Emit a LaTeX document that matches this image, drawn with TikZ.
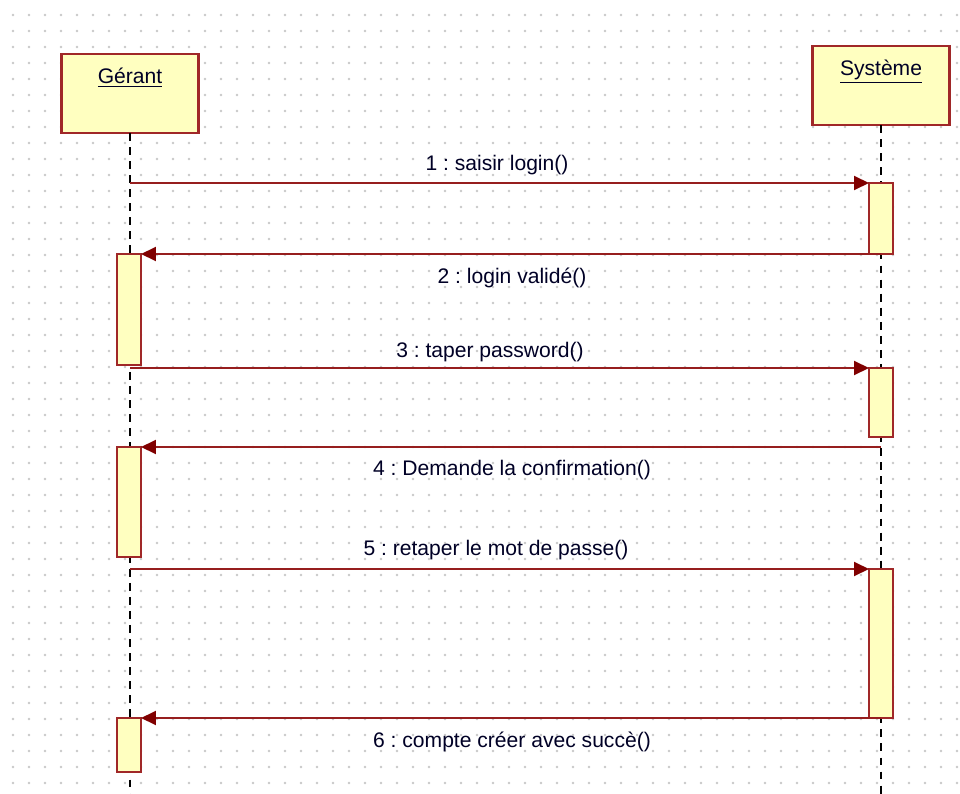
\documentclass[tikz,border=0pt]{standalone}
\usepackage{fontspec}
\setmainfont{Liberation Sans}
\usetikzlibrary{arrows.meta}
\frenchspacing

\definecolor{objborder}{RGB}{160,40,40}
\definecolor{msgline}{RGB}{150,30,30}
\definecolor{msghead}{RGB}{128,0,0}
\definecolor{objfill}{RGB}{255,255,192}
\definecolor{dotgray}{RGB}{200,200,200}

\tikzset{
	object/.style = {draw = objborder, fill = objfill, line width = 1.2pt, minimum width = 2.74cm, minimum height = 1.58cm, inner sep = 0pt, outer sep = 0pt},
	activation/.style = {draw = objborder, fill = objfill, line width = 1.1pt, minimum width = 0.48cm, inner sep = 0pt, outer sep = 0pt, anchor = north},
	lifeline/.style = {black, line width = 0.9pt, dash pattern = on 4.5pt off 3.5pt},
	message/.style = {msgline, line width = 1.1pt, -{Triangle[length = 0.3cm, width = 0.28cm, fill = msghead, color = msghead]}},
	msglabel/.style = {font = \fontsize{12}{14}\selectfont, text = black!85!blue, inner sep = 0pt}
}

\begin{document}
\begin{tikzpicture}[x = 0.02cm, y = -0.02cm]
	 \useasboundingbox (0, 0) rectangle (960, 794);
	 \fill[white] (0, 0) rectangle (960, 794);
	 
	 % background dot grid
	 \foreach \gx in {13, 29, ..., 960}
	 \foreach \gy in {15, 31, ..., 794}
	 \fill[dotgray] (\gx, \gy) circle (0.028cm);
	 
	 % objects and lifelines
	 \node[object] (gerant) at (130, 93.5) {};
	 \node[object] (systeme) at (881, 85.5) {};
	 \node[msglabel, anchor = north] at ([yshift = -0.28cm] gerant.north) {\underline{Gérant}};
	 \node[msglabel, anchor = north] at ([yshift = -0.28cm] systeme.north) {\underline{Système}};
	 
	 \coordinate (gerant end) at (130, 794);
	 \coordinate (systeme end) at (881, 794);
	 \draw[lifeline] (gerant.south) -- (gerant end);
	 \draw[lifeline] (systeme.south) -- (systeme end);
	 
	 % activation boxes
	 \node[activation, minimum height = 1.42cm] (s1) at (881, 183) {};
	 \node[activation, minimum height = 2.22cm] (g1) at (129, 254) {};
	 \node[activation, minimum height = 1.38cm] (s2) at (881, 368) {};
	 \node[activation, minimum height = 2.2cm] (g2) at (129, 447) {};
	 \node[activation, minimum height = 2.98cm] (s3) at (881, 569) {};
	 \node[activation, minimum height = 1.08cm] (g3) at (129, 718) {};
	 
	 % messages
	 \coordinate (m1) at (130, 183);
	 \coordinate (m3) at (130, 368);
	 \coordinate (m4) at (881, 447);
	 \coordinate (m5) at (130, 569);
	 
	 \draw[message] (m1) -- (s1.north west);
	 \draw[message] (s1.south) -- (g1.north east);
	 \draw[message] (m3) -- (s2.north west);
	 \draw[message] (m4) -- (g2.north east);
	 \draw[message] (m5) -- (s3.north west);
	 \draw[message] (s3.south) -- (g3.north east);
	 
	 \node[msglabel] (l1) at (497, 165) {1 : saisir login()};
	 \node[msglabel] (l2) at (512, 278) {2 : login validé()};
	 \node[msglabel] (l3) at (490, 352) {3 : taper password()};
	 \node[msglabel] (l4) at (512, 470) {4 : Demande la confirmation()};
	 \node[msglabel] (l5) at (496, 550) {5 : retaper le mot de passe()};
	 \node[msglabel] (l6) at (512, 742) {6 : compte créer avec succè()};
\end{tikzpicture}
\end{document}
